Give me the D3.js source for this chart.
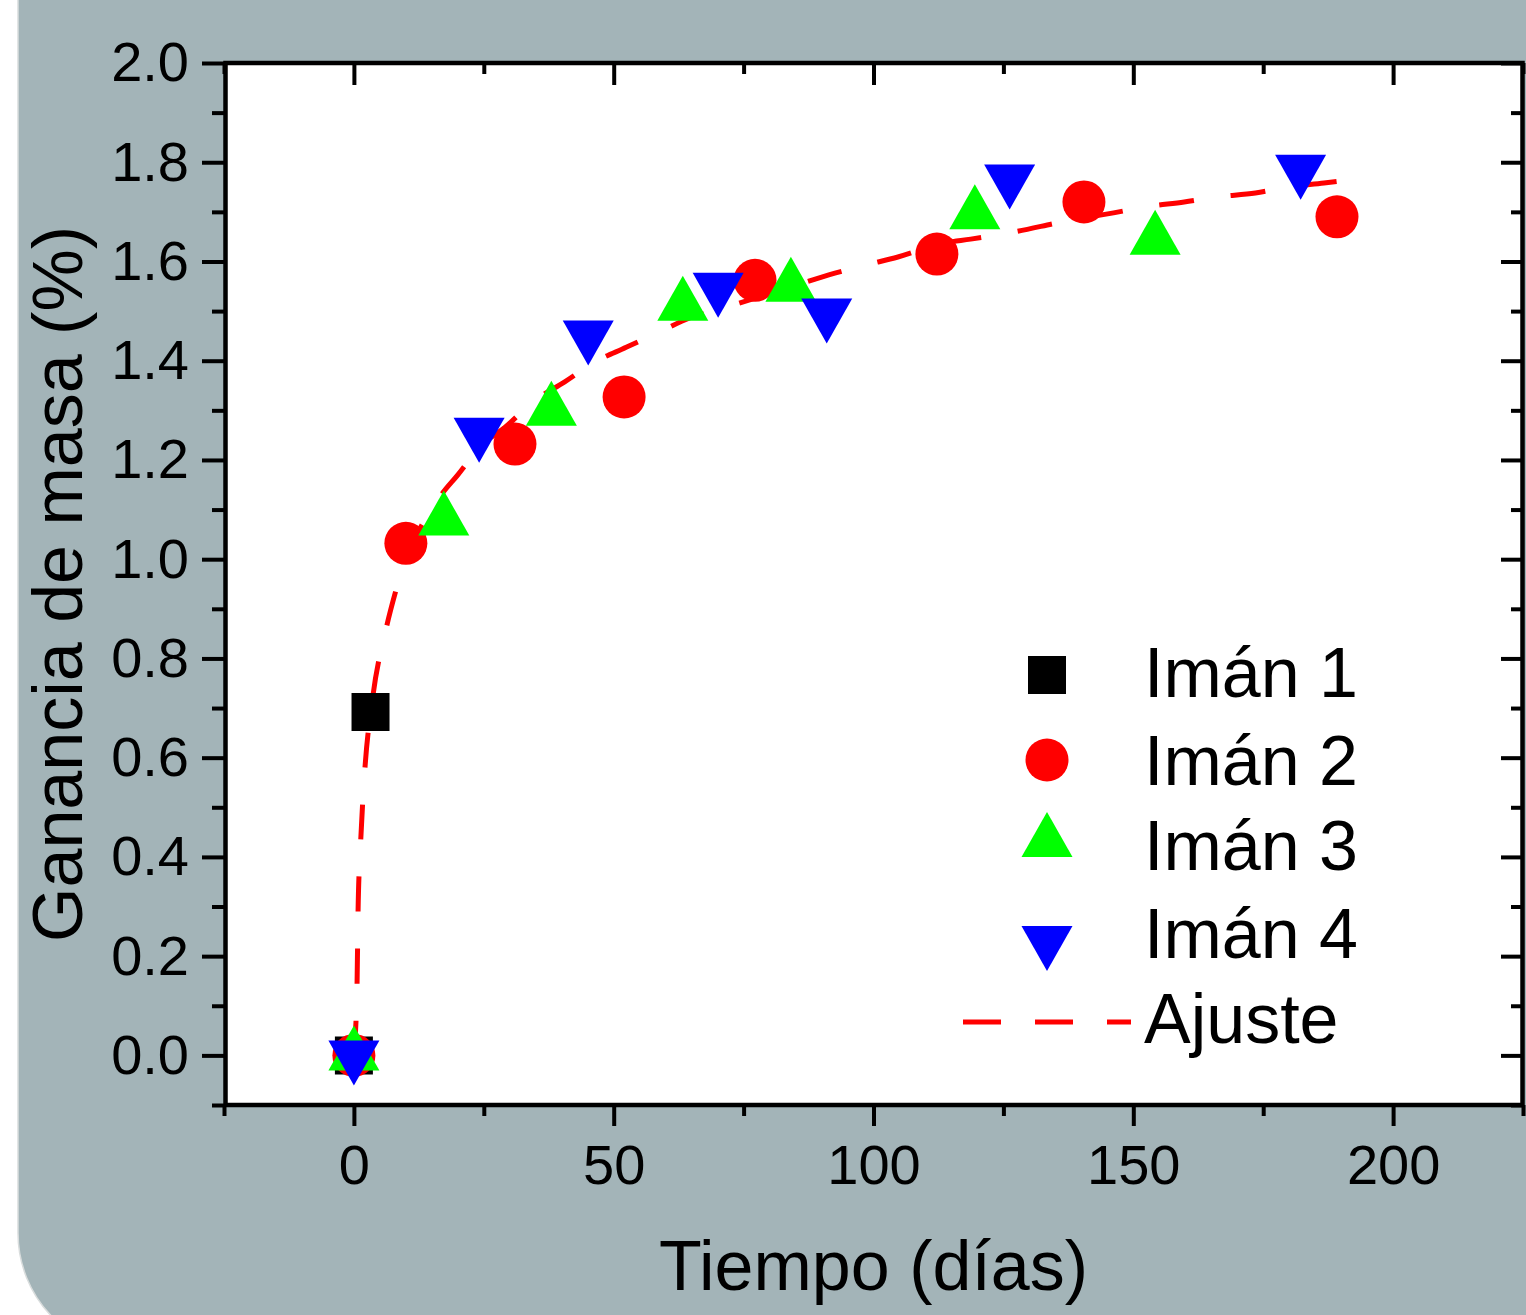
<!DOCTYPE html>
<html>
<head>
<meta charset="utf-8">
<script src="https://cdn.jsdelivr.net/npm/d3@7"></script>
<style>
  html, body { margin: 0; padding: 0; background: #ffffff; }
  svg { display: block; }
  text { font-family: "Liberation Sans", Arial, Helvetica, sans-serif; fill: #000; }
</style>
</head>
<body>
<svg id="chart" width="1526" height="1315"></svg>
<script>
// ---------------- data ----------------
const xDomain = [-25, 225];
const yDomain = [-0.1, 2.0];
const xMajorTicks = [0, 50, 100, 150, 200];
const xMinorTicks = [-25, 25, 75, 125, 175, 225];
const yMajorTicks = [0.0, 0.2, 0.4, 0.6, 0.8, 1.0, 1.2, 1.4, 1.6, 1.8, 2.0];
const yMinorTicks = [-0.1, 0.1, 0.3, 0.5, 0.7, 0.9, 1.1, 1.3, 1.5, 1.7, 1.9];

const seriesNames = ["Imán 1", "Imán 2", "Imán 3", "Imán 4"];
const seriesColors = ["#000000", "#ff0000", "#00ff00", "#0000ff"];
const seriesSymbols = ["square", "circle", "triangleUp", "triangleDown"];

const iman1Days = [0, 3.2];
const iman1Vals = [0.0, 0.692];
const iman2Days = [0, 10, 31, 52, 77.2, 112.2, 140.5, 189.2];
const iman2Vals = [0.0, 1.032, 1.232, 1.327, 1.562, 1.615, 1.720, 1.690];
const iman3Days = [0, 17.3, 38, 63.3, 84.1, 119.5, 154.2];
const iman3Vals = [0.0, 1.078, 1.299, 1.511, 1.549, 1.695, 1.644];
const iman4Days = [0, 24.1, 45.1, 70.1, 91.0, 126.2, 182.2];
const iman4Vals = [0.0, 1.255, 1.451, 1.547, 1.495, 1.765, 1.785];

const fitLabel = "Ajuste";
const fitDays = [0, 0.6, 0.8, 1.3, 2.1, 3.6, 6.2, 7.9, 16.5, 20, 24.6, 29, 34.8, 40.5, 46.3, 52.4, 58.8, 64.6, 71.7, 85.1, 91.4, 98.6, 104.7, 113.5, 118.7, 125.8, 137.9, 146.2, 152.4, 159.8, 166, 173.5, 179.8, 186.7, 189.8];
const fitVals = [0, 0.14, 0.29, 0.43, 0.575, 0.72, 0.86, 0.93, 1.125, 1.17, 1.23, 1.265, 1.32, 1.357, 1.397, 1.427, 1.458, 1.486, 1.508, 1.552, 1.573, 1.593, 1.609, 1.637, 1.645, 1.657, 1.683, 1.698, 1.71, 1.72, 1.73, 1.738, 1.75, 1.758, 1.762];

const xTitle = "Tiempo (días)";
const yTitle = "Ganancia de masa (%)";

// ---------------- drawing ----------------
const svg = d3.select("#chart");
const W = 1526, H = 1315;
const plot = { left: 224, right: 1523, top: 63, bottom: 1105 };

const x = d3.scaleLinear().domain(xDomain).range([plot.left, plot.right]);
const y = d3.scaleLinear().domain(yDomain).range([plot.bottom, plot.top]);

// grey panel with rounded bottom-left corner
svg.append("rect").attr("x", 0).attr("y", 0).attr("width", W).attr("height", H).attr("fill", "#ffffff");
svg.append("rect")
  .attr("x", 18).attr("y", -600).attr("width", 3000).attr("height", 1953)
  .attr("rx", 120).attr("ry", 120)
  .attr("fill", "#a3b4b8")
  .attr("stroke", "#d9dddd").attr("stroke-width", 1.5);

// plot background
svg.append("rect")
  .attr("x", plot.left).attr("y", plot.top)
  .attr("width", plot.right - plot.left).attr("height", plot.bottom - plot.top)
  .attr("fill", "#ffffff");

// symbol generator
function symbolPath(type) {
  if (type === "square") return d3.symbol(d3.symbolSquare, 38 * 38)();
  if (type === "circle") return d3.symbol(d3.symbolCircle, Math.PI * 21.5 * 21.5)();
  const w = 51, h = 45;
  if (type === "triangleUp") return `M0,${-2 * h / 3}L${w / 2},${h / 3}L${-w / 2},${h / 3}Z`;
  return `M0,${2 * h / 3}L${w / 2},${-h / 3}L${-w / 2},${-h / 3}Z`;
}

const seriesDays = [iman1Days, iman2Days, iman3Days, iman4Days];
const seriesVals = [iman1Vals, iman2Vals, iman3Vals, iman4Vals];

// fit curve (drawn under the markers)
const fitData = fitDays.map((d, i) => [d, fitVals[i]]);
svg.append("path")
  .datum(fitData)
  .attr("fill", "none")
  .attr("stroke", "#ff0000")
  .attr("stroke-width", 5)
  .attr("stroke-dasharray", "35,37")
  .attr("d", d3.line().x(d => x(d[0])).y(d => y(d[1])).curve(d3.curveMonotoneX));

// markers
seriesNames.forEach((name, si) => {
  const pts = seriesDays[si].map((d, i) => [d, seriesVals[si][i]]);
  svg.append("g").selectAll("path")
    .data(pts).join("path")
    .attr("transform", d => `translate(${x(d[0])},${y(d[1])})`)
    .attr("d", symbolPath(seriesSymbols[si]))
    .attr("fill", seriesColors[si]);
});

// frame
svg.append("rect")
  .attr("x", plot.left + 1.5).attr("y", plot.top)
  .attr("width", plot.right - plot.left - 2).attr("height", plot.bottom - plot.top)
  .attr("fill", "none").attr("stroke", "#000").attr("stroke-width", 4.5);

function styleAxis(g) {
  g.select(".domain").remove();
  g.selectAll(".tick line").attr("stroke", "#000").attr("stroke-width", 4);
  g.selectAll(".tick text").attr("font-size", 56).attr("fill", "#000")
    .style("font-family", '"Liberation Sans", Arial, sans-serif');
}

// bottom axis
svg.append("g").attr("transform", `translate(0,${plot.bottom})`)
  .call(d3.axisBottom(x).tickValues(xMajorTicks).tickSize(21).tickPadding(18).tickFormat(d3.format("d")))
  .call(styleAxis);
svg.append("g").attr("transform", `translate(0,${plot.bottom})`)
  .call(d3.axisBottom(x).tickValues(xMinorTicks).tickSize(11).tickFormat(""))
  .call(styleAxis);
// top axis (inward)
svg.append("g").attr("transform", `translate(0,${plot.top})`)
  .call(d3.axisTop(x).tickValues(xMajorTicks).tickSize(-22).tickFormat(""))
  .call(styleAxis);
svg.append("g").attr("transform", `translate(0,${plot.top})`)
  .call(d3.axisTop(x).tickValues(xMinorTicks).tickSize(-11).tickFormat(""))
  .call(styleAxis);
// left axis
svg.append("g").attr("transform", `translate(${plot.left},0)`)
  .call(d3.axisLeft(y).tickValues(yMajorTicks).tickSize(22).tickPadding(13).tickFormat(d3.format(".1f")))
  .call(styleAxis);
svg.append("g").attr("transform", `translate(${plot.left},0)`)
  .call(d3.axisLeft(y).tickValues(yMinorTicks).tickSize(12).tickFormat(""))
  .call(styleAxis);
// right axis (inward)
svg.append("g").attr("transform", `translate(${plot.right - 1},0)`)
  .call(d3.axisRight(y).tickValues(yMajorTicks).tickSize(-21).tickFormat(""))
  .call(styleAxis);
svg.append("g").attr("transform", `translate(${plot.right - 1},0)`)
  .call(d3.axisRight(y).tickValues(yMinorTicks).tickSize(-11).tickFormat(""))
  .call(styleAxis);

// axis titles
svg.append("text")
  .attr("x", (plot.left + plot.right) / 2).attr("y", 1290)
  .attr("text-anchor", "middle").attr("font-size", 70)
  .text(xTitle);
svg.append("text")
  .attr("transform", `translate(82,${(plot.top + plot.bottom) / 2}) rotate(-90)`)
  .attr("text-anchor", "middle").attr("font-size", 70)
  .text(yTitle);

// legend
const legendSymX = 1047;
const legendTextX = 1144;
const legendSymY = [675, 760, 842, 941];
const legendBaseY = [697, 785, 870, 958, 1043];
seriesNames.forEach((name, si) => {
  svg.append("path")
    .attr("transform", `translate(${legendSymX},${legendSymY[si]})`)
    .attr("d", symbolPath(seriesSymbols[si]))
    .attr("fill", seriesColors[si]);
  svg.append("text").attr("x", legendTextX).attr("y", legendBaseY[si])
    .attr("font-size", 70).text(name);
});
svg.append("line")
  .attr("x1", 963).attr("x2", 1131).attr("y1", 1022).attr("y2", 1022)
  .attr("stroke", "#ff0000").attr("stroke-width", 5)
  .attr("stroke-dasharray", "38,34");
svg.append("text").attr("x", legendTextX).attr("y", legendBaseY[4])
  .attr("font-size", 70).text(fitLabel);
</script>
</body>
</html>
